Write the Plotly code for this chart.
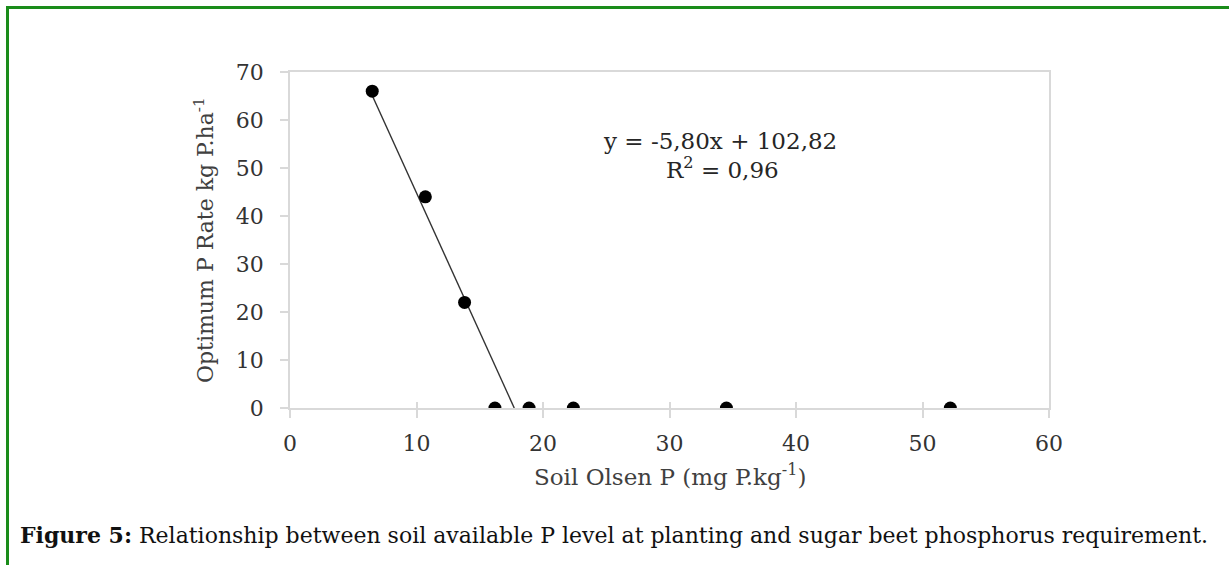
import plotly.graph_objects as go

# Data
soil_olsen_p = [6.5, 10.7, 13.8, 16.2, 18.9, 22.4, 34.5, 52.2]
optimum_p_rate = [66, 44, 22, 0, 0, 0, 0, 0]

# Trend line y = -5.80x + 102.82, drawn from the first point to the x-intercept
slope = -5.80
intercept = 102.82
trend_x = [6.5, -intercept / slope]
trend_y = [slope * x + intercept for x in trend_x]

x_ticks = [0, 10, 20, 30, 40, 50, 60]
y_ticks = [0, 10, 20, 30, 40, 50, 60, 70]

W, H = 1229, 565
L, R, T, B = 290, 1049, 72, 408  # plot area in pixels


def px(xp):
    return (xp - L) / (R - L)


def py(yp):
    return (B - yp) / (B - T)


SERIF = "DejaVu Serif"
GRID = "#d9d9d9"
FRAME = "#1a8c1a"

fig = go.Figure()
fig.add_trace(go.Scatter(x=trend_x, y=trend_y, mode="lines",
                         line=dict(color="#333333", width=1.4),
                         showlegend=False, hoverinfo="skip"))
fig.add_trace(go.Scatter(x=soil_olsen_p, y=optimum_p_rate, mode="markers",
                         marker=dict(color="black", size=13, symbol="circle"),
                         showlegend=False))
# dummy trace to make the overlay x-axis (inner tick marks) exist
fig.add_trace(go.Scatter(x=[0], y=[0], xaxis="x2", mode="markers",
                         marker=dict(opacity=0), showlegend=False, hoverinfo="skip"))

fig.update_layout(
    width=W, height=H,
    margin=dict(l=L, r=W - R, t=T, b=H - B, pad=0),
    paper_bgcolor="white", plot_bgcolor="white",
    font=dict(family=SERIF, color="#404040"),
    xaxis=dict(range=[0, 60], tickvals=x_ticks, showgrid=False, zeroline=False,
               showline=True, linecolor=GRID, linewidth=1.5, mirror=True,
               ticks="outside", ticklen=8, tickcolor=GRID, tickwidth=1.5,
               tickfont=dict(family=SERIF, size=22, color="#333333"),
               ticklabelstandoff=7),
    xaxis2=dict(range=[0, 60], tickvals=x_ticks, overlaying="x", anchor="y",
                side="bottom", showgrid=False, zeroline=False, showline=False,
                ticks="inside", ticklen=6, tickcolor=GRID, tickwidth=1.5,
                showticklabels=False),
    yaxis=dict(range=[0, 70], tickvals=y_ticks, showgrid=False, zeroline=False,
               showline=True, linecolor=GRID, linewidth=1.5, mirror=True,
               ticks="outside", ticklen=8, tickcolor=GRID, tickwidth=1.5,
               tickfont=dict(family=SERIF, size=22, color="#333333"),
               ticklabelstandoff=12),
    shapes=[
        dict(type="line", xref="paper", yref="paper",
             x0=px(6), x1=px(1229), y0=py(7.5), y1=py(7.5),
             line=dict(color=FRAME, width=3), layer="below"),
        dict(type="line", xref="paper", yref="paper",
             x0=px(7.5), x1=px(7.5), y0=py(6), y1=py(565),
             line=dict(color=FRAME, width=3), layer="below"),
    ],
    annotations=[
        dict(text="y = -5,80x + 102,82", xref="paper", yref="paper",
             x=px(720), y=py(141), xanchor="center", yanchor="middle", showarrow=False,
             font=dict(family=SERIF, size=23, color="#262626")),
        dict(text="R<sup>2</sup> = 0,96", xref="paper", yref="paper",
             x=px(722), y=py(168), xanchor="center", yanchor="middle", showarrow=False,
             font=dict(family=SERIF, size=23, color="#262626")),
        dict(text="Optimum P Rate kg P.ha<sup>-1</sup>", xref="paper", yref="paper",
             x=px(204), y=py(240), xanchor="center", yanchor="middle",
             textangle=-90, showarrow=False,
             font=dict(family=SERIF, size=22, color="#404040")),
        dict(text="Soil Olsen P (mg P.kg<sup>-1</sup>)", xref="paper", yref="paper",
             x=px(670), y=py(475), xanchor="center", yanchor="middle", showarrow=False,
             font=dict(family=SERIF, size=23, color="#404040")),
        dict(text="<b>Figure 5:</b> Relationship between soil available P level at planting and sugar beet phosphorus requirement.",
             xref="paper", yref="paper", x=px(18), y=py(535), xanchor="left",
             yanchor="middle", showarrow=False,
             font=dict(family=SERIF, size=22, color="#111111")),
    ],
)

fig.write_html("out.html", config={"displayModeBar": False},
               post_script="document.body.style.margin='0';")
